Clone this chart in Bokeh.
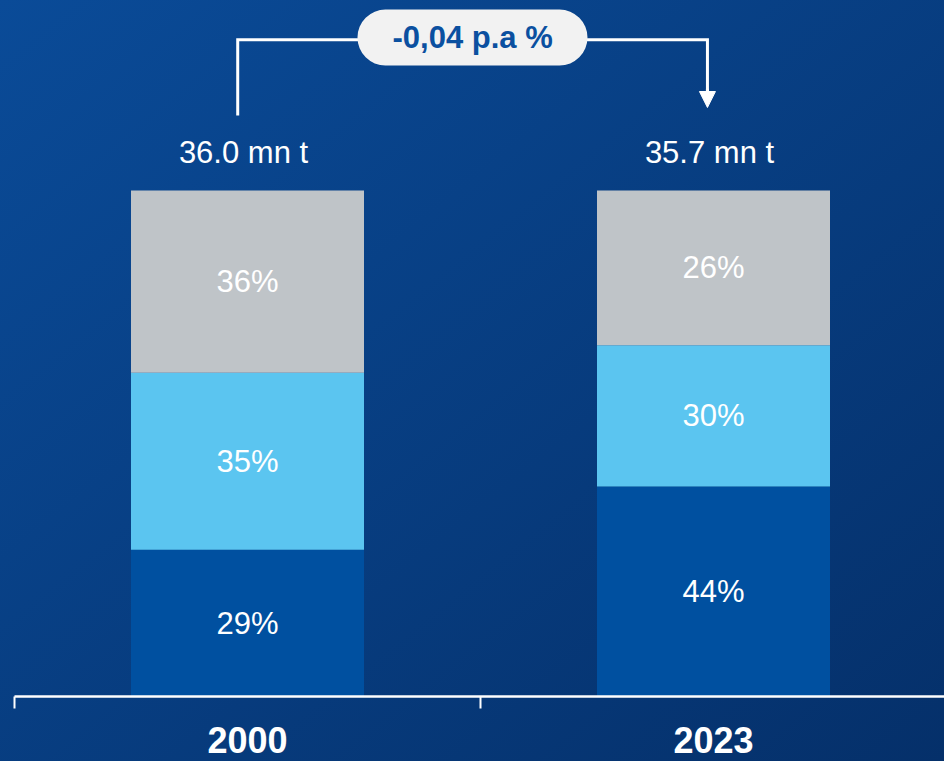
import numpy as np
from bokeh.plotting import figure
from bokeh.models import (Range1d, FixedTicker, ColumnDataSource, BoxAnnotation,
                          Label, Arrow, NormalHead)
from bokeh.core.properties import value
from bokeh.embed import file_html
from bokeh.resources import INLINE

# ---------------- data ----------------
years = ["2000", "2023"]
total_labels = ["36.0 mn t", "35.7 mn t"]
segments = ["bottom", "middle", "top"]
# segment heights as drawn (share of bar, %)
seg_2000 = [29.0, 35.0, 36.0]
seg_2023 = [41.5, 27.9, 30.6]
# printed share labels
labels_2000 = ["29%", "35%", "36%"]
labels_2023 = ["44%", "30%", "26%"]
change_label = "-0,04 p.a %"

# ---------------- style ----------------
colors = ["#0050a0", "#5bc5f0", "#bfc4c8"]
FONT = "Liberation Sans"
W, H = 944, 761
FRAME_L, FRAME_B_PX = 14, 65
CAT_PX = 466.0
PX_PER_UNIT = 5.06
frame_w = W - FRAME_L
frame_h = H - FRAME_B_PX

xc = [i + 0.5 for i in range(len(years))]

p = figure(width=W, height=H,
           x_range=Range1d(0, frame_w / CAT_PX),
           y_range=Range1d(0, frame_h / PX_PER_UNIT),
           output_backend="svg", toolbar_location=None,
           y_axis_location=None,
           min_border_left=FRAME_L, min_border_right=0,
           min_border_top=0, min_border_bottom=FRAME_B_PX)
p.grid.visible = False
p.outline_line_color = None
p.background_fill_alpha = 0
p.border_fill_alpha = 0
p.styles = {"background": "linear-gradient(to bottom right, #0a4b98, #05306a)"}

# x axis
ax = p.xaxis[0]
ax.ticker = FixedTicker(ticks=xc, minor_ticks=[float(i) for i in range(len(years) + 1)])
ax.major_label_overrides = {x: y for x, y in zip(xc, years)}
ax.major_tick_out = 0
ax.major_tick_in = 0
ax.minor_tick_out = 12
ax.minor_tick_in = 0
ax.minor_tick_line_color = "white"
ax.minor_tick_line_width = 2
ax.axis_line_color = "white"
ax.axis_line_width = 2.5
ax.major_label_text_font = FONT
ax.major_label_text_font_style = "bold"
ax.major_label_text_font_size = "36px"
ax.major_label_text_color = "white"
ax.major_label_standoff = 18

# bars
data = {"x": xc}
for k, seg in enumerate(segments):
    data[seg] = [seg_2000[k], seg_2023[k]]
src = ColumnDataSource(data)
p.vbar_stack(segments, x="x", width=0.5, color=colors, line_color=None, source=src)

# segment labels
lx, ly, lt = [], [], []
for x, vals, labs in zip(xc, [seg_2000, seg_2023], [labels_2000, labels_2023]):
    cum = np.cumsum([0] + vals)
    for k in range(len(vals)):
        lx.append(x)
        ly.append((cum[k] + cum[k + 1]) / 2)
        lt.append(labs[k])
p.text(x=lx, y=ly, text=lt, text_font=value(FONT), text_font_size="31px",
       text_color="white", text_align="center", text_baseline="middle")

# totals
totals = [sum(seg_2000), sum(seg_2023)]
p.text(x=xc, y=totals, text=total_labels, y_offset=-38, x_offset=-4,
       text_font=value(FONT), text_font_size="31px", text_color="white",
       text_align="center", text_baseline="middle")

# bracket with change pill
x_left = xc[0] - 0.021
x_right = xc[1] - 0.013
y_h = 129.8
y_left_bottom = 114.8
y_head_base = 119.6
y_tip = 116.4
p.line([x_left, x_left, x_right, x_right], [y_left_bottom, y_h, y_h, y_head_base],
       line_color="white", line_width=3, line_join="miter")
p.add_layout(Arrow(end=NormalHead(size=16, fill_color="white", line_color="white", line_width=1),
                   x_start=x_right, y_start=y_head_base + 0.5, x_end=x_right, y_end=y_tip,
                   line_color="white", line_width=3))

p.add_layout(BoxAnnotation(left=0.736, right=1.2296, bottom=124.7, top=135.77,
                           fill_color="#f2f2f2", fill_alpha=1, line_color=None,
                           border_radius=28))
p.add_layout(Label(x=0.983, y=130.2, text=change_label, text_align="center",
                   text_baseline="middle", text_font=FONT, text_font_style="bold",
                   text_font_size="31px", text_color="#0b50a0"))

open("out.html", "w").write(file_html(p, INLINE))
